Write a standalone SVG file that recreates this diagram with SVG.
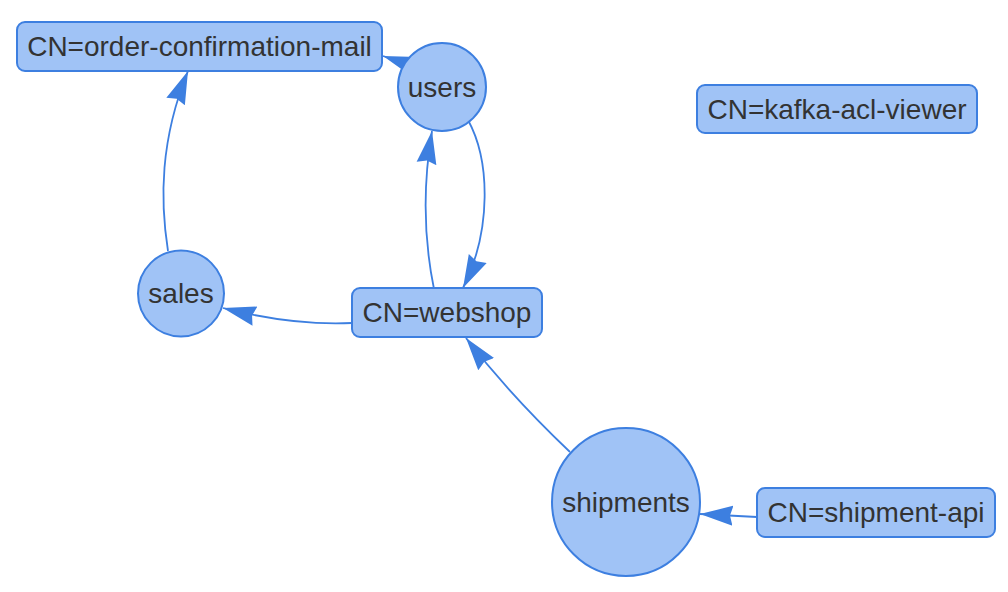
<svg xmlns="http://www.w3.org/2000/svg" width="1008" height="592" viewBox="0 0 1008 592">
<style>
.n{fill:#a0c3f6;stroke:#3d7fe0;stroke-width:2}
.e{fill:none;stroke:#3d7fe0;stroke-width:1.8}
.t{font-family:"Liberation Sans",Arial,sans-serif;font-size:28px;fill:#333333;text-anchor:middle}
</style>
<defs>
<marker id="ah" markerUnits="userSpaceOnUse" markerWidth="34" markerHeight="22" refX="33" refY="11" orient="auto">
<path d="M0,1 L33,11 L0,21 L3,11 z" fill="#3d7fe0"/>
</marker>
</defs>
<rect width="1008" height="592" fill="#ffffff"/>
<g id="edges">
<path class="e" d="M425 70 L383 56" marker-end="url(#ah)"/>
<path class="e" d="M168 251 C160 200 160 140 188 71" marker-end="url(#ah)"/>
<path class="e" d="M434 289 C424 240 422 190 432 131" marker-end="url(#ah)"/>
<path class="e" d="M468 120 C490 160 492 230 463 288" marker-end="url(#ah)"/>
<path class="e" d="M352 323 C310 325 270 320 223 308" marker-end="url(#ah)"/>
<path class="e" d="M570 452 Q510 395 466 338" marker-end="url(#ah)"/>
<path class="e" d="M757 517 L700 514" marker-end="url(#ah)"/>
</g>
<g id="ocm"><rect class="n" x="17" y="22" width="365" height="49" rx="8"/><text class="t" x="199.5" y="56">CN=order-confirmation-mail</text></g>
<g id="users"><circle class="n" cx="442" cy="87" r="44"/><text class="t" x="442" y="97">users</text></g>
<g id="kafka"><rect class="n" x="697" y="85" width="280" height="48" rx="8"/><text class="t" x="837" y="119">CN=kafka-acl-viewer</text></g>
<g id="sales"><circle class="n" cx="181" cy="293.5" r="43"/><text class="t" x="181" y="303">sales</text></g>
<g id="webshop"><rect class="n" x="352" y="288" width="190" height="49" rx="8"/><text class="t" x="447" y="322">CN=webshop</text></g>
<g id="shipments"><circle class="n" cx="626" cy="502" r="74"/><text class="t" x="626" y="512">shipments</text></g>
<g id="shipapi"><rect class="n" x="757" y="488" width="238" height="49" rx="8"/><text class="t" x="876" y="522">CN=shipment-api</text></g>
</svg>
